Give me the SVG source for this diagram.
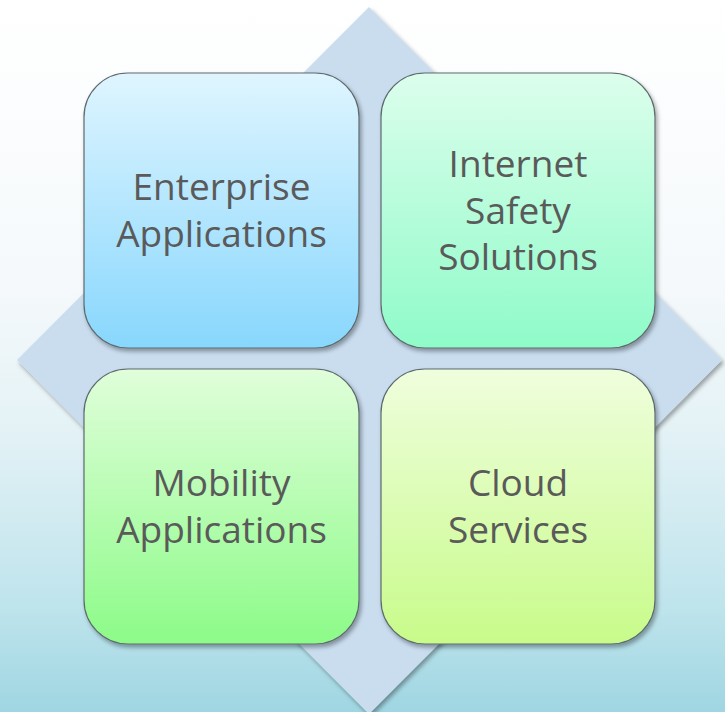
<svg xmlns="http://www.w3.org/2000/svg" width="725" height="712" viewBox="0 0 725 712">
  <defs>
    <linearGradient id="bg" x1="0" y1="0" x2="0" y2="1">
      <stop offset="0" stop-color="#ffffff"/>
      <stop offset="0.4" stop-color="#f5f9fb"/>
      <stop offset="0.6" stop-color="#e4f2f6"/>
      <stop offset="0.85" stop-color="#bfe4ec"/>
      <stop offset="1" stop-color="#9fd6e2"/>
    </linearGradient>
    <linearGradient id="gBlue" x1="0" y1="0" x2="0" y2="1">
      <stop offset="0" stop-color="#dff5ff"/>
      <stop offset="1" stop-color="#88d7fd"/>
    </linearGradient>
    <linearGradient id="gTeal" x1="0" y1="0" x2="0" y2="1">
      <stop offset="0" stop-color="#dcfeec"/>
      <stop offset="1" stop-color="#8ffbc9"/>
    </linearGradient>
    <linearGradient id="gGreen" x1="0" y1="0" x2="0" y2="1">
      <stop offset="0" stop-color="#e0feda"/>
      <stop offset="1" stop-color="#8cfb88"/>
    </linearGradient>
    <linearGradient id="gLime" x1="0" y1="0" x2="0" y2="1">
      <stop offset="0" stop-color="#effedd"/>
      <stop offset="1" stop-color="#c8fb8a"/>
    </linearGradient>
    <filter id="shadow" x="-10%" y="-10%" width="125%" height="125%">
      <feDropShadow dx="2" dy="3" stdDeviation="2" flood-color="#000000" flood-opacity="0.35"/>
    </filter>
  </defs>
  <style>
    .box { stroke: #5e6a6e; stroke-width: 1.2; filter: url(#shadow); }
    .lbl { font-family: "Open Sans", "Noto Sans", "DejaVu Sans", sans-serif; font-size: 37px; fill: #5a5a5a; text-anchor: middle; }
  </style>
  <rect x="0" y="0" width="725" height="712" fill="url(#bg)"/>
  <polygon id="diamond" points="369,7 722,360 369,714 17,360" fill="#c9ddef" filter="url(#shadow)"/>
  <g id="connectors"/>
  <g id="node-enterprise">
    <rect class="box" x="84" y="73" width="275" height="275" rx="44" ry="44" fill="url(#gBlue)"/>
    <text class="lbl"><tspan x="221.5" y="200">Enterprise</tspan><tspan x="221.5" y="246.5">Applications</tspan></text>
  </g>
  <g id="node-internet">
    <rect class="box" x="381" y="73" width="274" height="275" rx="44" ry="44" fill="url(#gTeal)"/>
    <text class="lbl"><tspan x="518" y="177">Internet</tspan><tspan x="518" y="223.5">Safety</tspan><tspan x="518" y="270">Solutions</tspan></text>
  </g>
  <g id="node-mobility">
    <rect class="box" x="84" y="369" width="275" height="275" rx="44" ry="44" fill="url(#gGreen)"/>
    <text class="lbl"><tspan x="221.5" y="496">Mobility</tspan><tspan x="221.5" y="542.5">Applications</tspan></text>
  </g>
  <g id="node-cloud">
    <rect class="box" x="381" y="369" width="274" height="275" rx="44" ry="44" fill="url(#gLime)"/>
    <text class="lbl"><tspan x="518" y="496">Cloud</tspan><tspan x="518" y="542.5">Services</tspan></text>
  </g>
</svg>
